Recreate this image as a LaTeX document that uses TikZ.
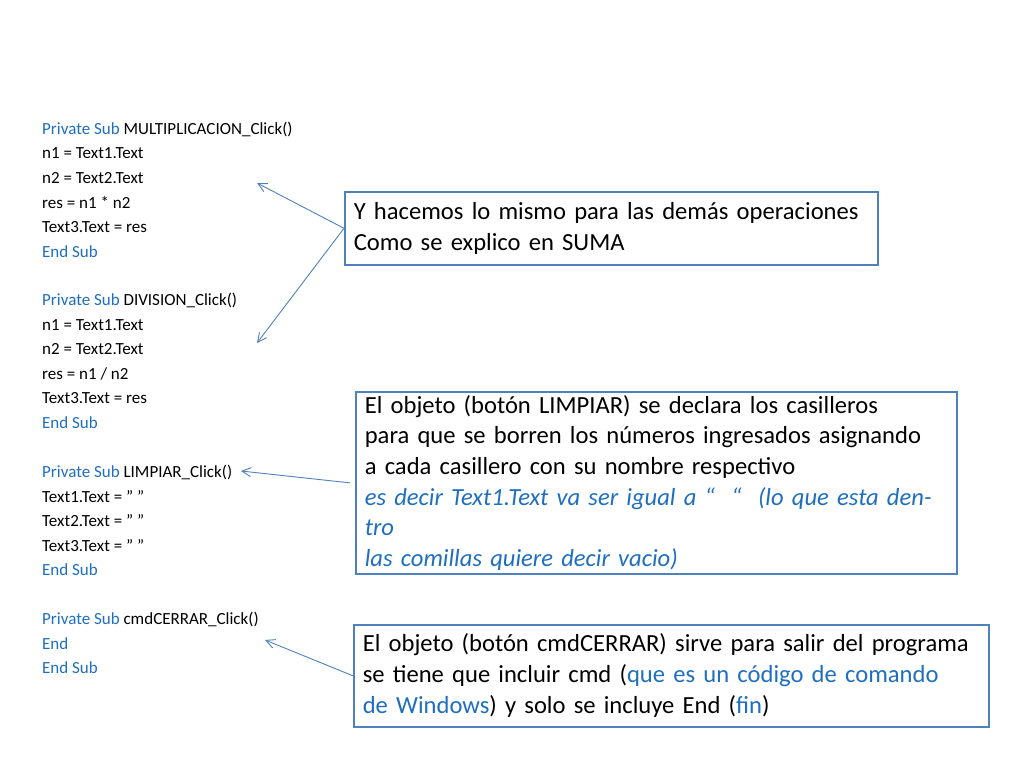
\documentclass[tikz,border=0pt]{standalone}
\usepackage{fontspec}
\setmainfont{Carlito}
\usetikzlibrary{arrows.meta}
\definecolor{kwblue}{HTML}{1F6FC0}
\definecolor{boxblue}{HTML}{4F81BD}
\newcommand{\kw}[1]{\textcolor{kwblue}{#1}}
\newcommand{\dq}{\symbol{34}}
\tikzset{
  codeline/.style={anchor=west, inner sep=0pt, font=\fontsize{17}{20}\selectfont},
  notebox/.style={draw=boxblue, line width=1.6pt, anchor=north west, align=left,
    inner xsep=9pt, font=\fontsize{24.6}{31}\selectfont},
  pointer/.style={draw=boxblue, line width=0.9pt, -{Straight Barb[length=9pt,width=9pt]}}
}
\begin{document}
\begin{tikzpicture}[x=1pt,y=-1pt]
\useasboundingbox[fill=white] (0,0) rectangle (1024,768);

% code listing
\foreach \y/\t in {129/{\kw{Private Sub} MULTIPLICACION\_Click()},
  153.5/{n1 = Text1.Text}, 178/{n2 = Text2.Text}, 202.5/{res = n1 * n2},
  227/{Text3.Text = res}, 251.5/{\kw{End Sub}},
  300.5/{\kw{Private Sub} DIVISION\_Click()},
  325/{n1 = Text1.Text}, 349.5/{n2 = Text2.Text}, 374/{res = n1 / n2},
  398.5/{Text3.Text = res}, 423/{\kw{End Sub}},
  472/{\kw{Private Sub} LIMPIAR\_Click()},
  496.5/{Text1.Text = \dq\ \dq}, 521/{Text2.Text = \dq\ \dq}, 545.5/{Text3.Text = \dq\ \dq},
  570/{\kw{End Sub}},
  619/{\kw{Private Sub} cmdCERRAR\_Click()},
  643.5/{\kw{End}}, 668/{\kw{End Sub}}}
  \node[codeline] at (42,\y) {\t};

% notes
\node[notebox, text width=515pt, minimum height=73pt] (suma) at (344,191)
  {Y hacemos lo mismo para las demás operaciones\\Como se explico en SUMA};
\node[notebox, text width=583pt, minimum height=166pt, font=\fontsize{24.6}{30.7}\selectfont] (limpiar) at (355,391)
  {El objeto (botón LIMPIAR) se declara los casilleros\\
   para que se borren los números ingresados asignando\\
   a cada casillero con su nombre respectivo\\
   \textcolor{kwblue}{\itshape es decir Text1.Text va ser igual a “ \ “ \ (lo que esta dentro}\\
   \textcolor{kwblue}{\itshape las comillas quiere decir vacio)}};
\node[notebox, text width=617pt, minimum height=102pt] (cerrar) at (353,624)
  {El objeto (botón cmdCERRAR) sirve para salir del programa\\
   se tiene que incluir cmd (\kw{que es un código de comando}\\
   \kw{de Windows}) y solo se incluye End (\kw{fin})};

% arrows
\coordinate (mult) at (257,183);
\coordinate (div) at (257,343);
\coordinate (limp) at (241,471);
\coordinate (cerr) at (265,640);
\draw[pointer] (suma.west) -- (mult);
\draw[pointer] (suma.west) -- (div);
\draw[pointer] (limpiar.west) ++(-5,0) -- (limp);
\draw[pointer] (cerrar.west) -- (cerr);
\end{tikzpicture}
\end{document}
